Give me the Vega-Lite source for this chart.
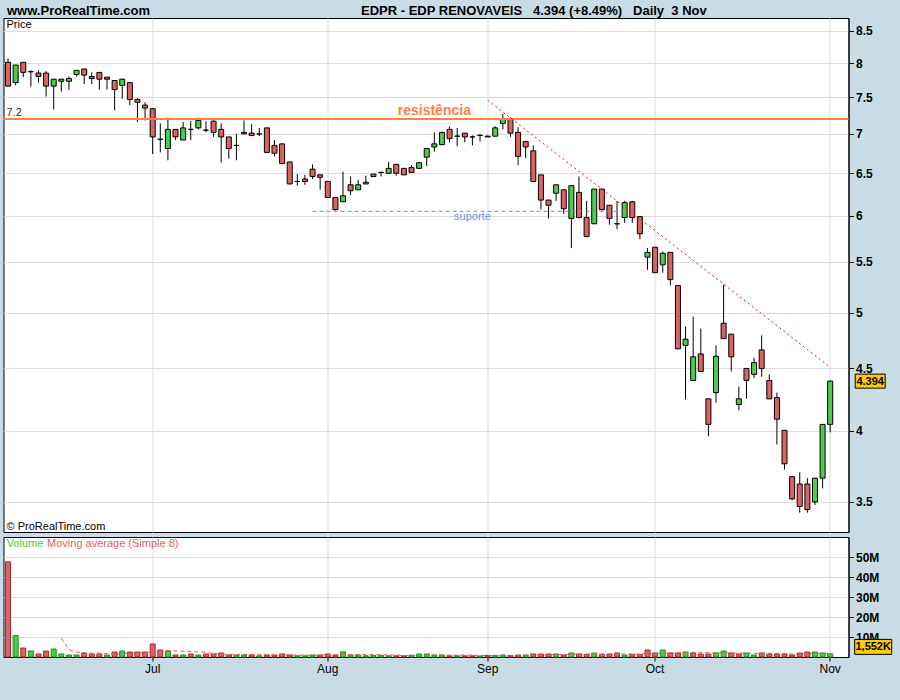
{
  "$schema": "https://vega.github.io/schema/vega-lite/v6.json",
  "background": "#c9dce6",
  "padding": {"left": 1.5, "top": 3, "right": 10.5, "bottom": 26.5},
  "spacing": 3,
  "config": {
    "font": "Liberation Sans",
    "view": {"stroke": "#000000", "strokeWidth": 1, "fill": "#ffffff"},
    "axis": {"gridColor": "#dcdcdc", "gridWidth": 1, "domainColor": "#000000", "tickColor": "#000000", "labelColor": "#000000", "labelFont": "Liberation Sans", "titleFont": "Liberation Sans", "titleColor": "#000000", "labelOverlap": false}
  },
  "datasets": {
    "ohlc": [
      {"d":"2008-06-04","o":8.01,"h":8.07,"l":7.65,"c":7.66,"v":47600000,"vd":"down"},
      {"d":"2008-06-05","o":7.71,"h":7.97,"l":7.67,"c":7.97,"v":10700000,"vd":"up"},
      {"d":"2008-06-06","o":8.01,"h":8.01,"l":7.79,"c":7.86,"v":4500000,"vd":"down"},
      {"d":"2008-06-09","o":7.87,"h":7.89,"l":7.65,"c":7.87,"v":3000000,"vd":"up"},
      {"d":"2008-06-10","o":7.85,"h":7.89,"l":7.71,"c":7.80,"v":1500000,"vd":"down"},
      {"d":"2008-06-11","o":7.85,"h":7.88,"l":7.51,"c":7.66,"v":3000000,"vd":"down"},
      {"d":"2008-06-12","o":7.66,"h":7.76,"l":7.33,"c":7.76,"v":4000000,"vd":"up"},
      {"d":"2008-06-13","o":7.73,"h":7.76,"l":7.58,"c":7.76,"v":1500000,"vd":"up"},
      {"d":"2008-06-16","o":7.73,"h":7.80,"l":7.60,"c":7.77,"v":1000000,"vd":"up"},
      {"d":"2008-06-17","o":7.83,"h":7.89,"l":7.80,"c":7.89,"v":1000000,"vd":"up"},
      {"d":"2008-06-18","o":7.91,"h":7.91,"l":7.69,"c":7.82,"v":2000000,"vd":"down"},
      {"d":"2008-06-19","o":7.80,"h":7.86,"l":7.69,"c":7.77,"v":1500000,"vd":"down"},
      {"d":"2008-06-20","o":7.86,"h":7.86,"l":7.61,"c":7.76,"v":1500000,"vd":"down"},
      {"d":"2008-06-23","o":7.79,"h":7.79,"l":7.61,"c":7.76,"v":1000000,"vd":"up"},
      {"d":"2008-06-24","o":7.74,"h":7.74,"l":7.32,"c":7.61,"v":2500000,"vd":"down"},
      {"d":"2008-06-25","o":7.67,"h":7.77,"l":7.48,"c":7.76,"v":3000000,"vd":"up"},
      {"d":"2008-06-26","o":7.71,"h":7.71,"l":7.39,"c":7.47,"v":2500000,"vd":"down"},
      {"d":"2008-06-27","o":7.47,"h":7.49,"l":7.16,"c":7.43,"v":2500000,"vd":"down"},
      {"d":"2008-06-30","o":7.39,"h":7.43,"l":7.18,"c":7.35,"v":2500000,"vd":"down"},
      {"d":"2008-07-01","o":7.34,"h":7.34,"l":6.74,"c":6.96,"v":6500000,"vd":"down"},
      {"d":"2008-07-02","o":6.93,"h":7.14,"l":6.76,"c":6.93,"v":3500000,"vd":"down"},
      {"d":"2008-07-03","o":6.81,"h":7.22,"l":6.66,"c":7.06,"v":3000000,"vd":"up"},
      {"d":"2008-07-04","o":7.06,"h":7.06,"l":6.92,"c":6.96,"v":1000000,"vd":"down"},
      {"d":"2008-07-07","o":6.92,"h":7.16,"l":6.92,"c":7.08,"v":1000000,"vd":"up"},
      {"d":"2008-07-08","o":7.06,"h":7.17,"l":6.92,"c":7.06,"v":1500000,"vd":"down"},
      {"d":"2008-07-09","o":7.08,"h":7.22,"l":7.06,"c":7.18,"v":1000000,"vd":"up"},
      {"d":"2008-07-10","o":7.05,"h":7.17,"l":7.02,"c":7.05,"v":1500000,"vd":"down"},
      {"d":"2008-07-11","o":7.17,"h":7.18,"l":6.96,"c":7.02,"v":1500000,"vd":"down"},
      {"d":"2008-07-14","o":7.06,"h":7.14,"l":6.63,"c":6.96,"v":2000000,"vd":"down"},
      {"d":"2008-07-15","o":6.96,"h":6.96,"l":6.68,"c":6.81,"v":1000000,"vd":"down"},
      {"d":"2008-07-16","o":6.85,"h":7.00,"l":6.66,"c":6.85,"v":1000000,"vd":"up"},
      {"d":"2008-07-17","o":7.00,"h":7.18,"l":7.00,"c":7.02,"v":1000000,"vd":"up"},
      {"d":"2008-07-18","o":7.01,"h":7.13,"l":6.97,"c":6.98,"v":1000000,"vd":"down"},
      {"d":"2008-07-21","o":7.00,"h":7.08,"l":6.97,"c":7.00,"v":600000,"vd":"up"},
      {"d":"2008-07-22","o":7.08,"h":7.08,"l":6.76,"c":6.76,"v":1000000,"vd":"down"},
      {"d":"2008-07-23","o":6.85,"h":6.92,"l":6.71,"c":6.75,"v":1000000,"vd":"down"},
      {"d":"2008-07-24","o":6.87,"h":6.87,"l":6.62,"c":6.62,"v":1500000,"vd":"down"},
      {"d":"2008-07-25","o":6.64,"h":6.64,"l":6.37,"c":6.37,"v":1000000,"vd":"down"},
      {"d":"2008-07-28","o":6.40,"h":6.49,"l":6.35,"c":6.40,"v":600000,"vd":"up"},
      {"d":"2008-07-29","o":6.43,"h":6.48,"l":6.36,"c":6.40,"v":600000,"vd":"up"},
      {"d":"2008-07-30","o":6.55,"h":6.61,"l":6.43,"c":6.46,"v":1000000,"vd":"up"},
      {"d":"2008-07-31","o":6.48,"h":6.48,"l":6.30,"c":6.45,"v":1000000,"vd":"down"},
      {"d":"2008-08-01","o":6.40,"h":6.40,"l":6.21,"c":6.21,"v":1500000,"vd":"down"},
      {"d":"2008-08-04","o":6.21,"h":6.21,"l":6.06,"c":6.07,"v":1000000,"vd":"down"},
      {"d":"2008-08-05","o":6.16,"h":6.52,"l":6.16,"c":6.23,"v":2600000,"vd":"up"},
      {"d":"2008-08-06","o":6.36,"h":6.46,"l":6.24,"c":6.29,"v":1000000,"vd":"up"},
      {"d":"2008-08-07","o":6.30,"h":6.42,"l":6.30,"c":6.36,"v":1000000,"vd":"up"},
      {"d":"2008-08-08","o":6.37,"h":6.47,"l":6.37,"c":6.39,"v":600000,"vd":"up"},
      {"d":"2008-08-11","o":6.49,"h":6.49,"l":6.46,"c":6.46,"v":800000,"vd":"up"},
      {"d":"2008-08-12","o":6.51,"h":6.52,"l":6.46,"c":6.51,"v":800000,"vd":"up"},
      {"d":"2008-08-13","o":6.50,"h":6.64,"l":6.49,"c":6.56,"v":600000,"vd":"up"},
      {"d":"2008-08-14","o":6.61,"h":6.61,"l":6.47,"c":6.50,"v":600000,"vd":"down"},
      {"d":"2008-08-15","o":6.56,"h":6.56,"l":6.48,"c":6.48,"v":600000,"vd":"down"},
      {"d":"2008-08-18","o":6.57,"h":6.60,"l":6.51,"c":6.51,"v":900000,"vd":"up"},
      {"d":"2008-08-19","o":6.56,"h":6.63,"l":6.56,"c":6.63,"v":1500000,"vd":"up"},
      {"d":"2008-08-20","o":6.70,"h":6.81,"l":6.59,"c":6.81,"v":1500000,"vd":"up"},
      {"d":"2008-08-21","o":6.83,"h":7.02,"l":6.77,"c":6.87,"v":1000000,"vd":"up"},
      {"d":"2008-08-22","o":6.86,"h":7.03,"l":6.86,"c":7.02,"v":1000000,"vd":"up"},
      {"d":"2008-08-25","o":7.06,"h":7.10,"l":6.89,"c":6.94,"v":600000,"vd":"down"},
      {"d":"2008-08-26","o":6.97,"h":7.08,"l":6.84,"c":6.97,"v":600000,"vd":"up"},
      {"d":"2008-08-27","o":7.01,"h":7.01,"l":6.89,"c":6.96,"v":600000,"vd":"down"},
      {"d":"2008-08-28","o":6.96,"h":6.98,"l":6.85,"c":6.96,"v":600000,"vd":"down"},
      {"d":"2008-08-29","o":6.98,"h":7.00,"l":6.90,"c":6.98,"v":500000,"vd":"up"},
      {"d":"2008-09-01","o":6.97,"h":6.98,"l":6.96,"c":6.96,"v":800000,"vd":"down"},
      {"d":"2008-09-02","o":6.97,"h":7.10,"l":6.97,"c":7.08,"v":800000,"vd":"up"},
      {"d":"2008-09-03","o":7.14,"h":7.27,"l":7.06,"c":7.20,"v":1000000,"vd":"up"},
      {"d":"2008-09-04","o":7.20,"h":7.22,"l":6.96,"c":7.01,"v":800000,"vd":"down"},
      {"d":"2008-09-05","o":7.02,"h":7.09,"l":6.60,"c":6.71,"v":1000000,"vd":"down"},
      {"d":"2008-09-08","o":6.90,"h":6.90,"l":6.69,"c":6.83,"v":1000000,"vd":"up"},
      {"d":"2008-09-09","o":6.78,"h":6.85,"l":6.40,"c":6.40,"v":1500000,"vd":"down"},
      {"d":"2008-09-10","o":6.48,"h":6.48,"l":6.07,"c":6.18,"v":1500000,"vd":"down"},
      {"d":"2008-09-11","o":6.18,"h":6.18,"l":5.97,"c":6.12,"v":1500000,"vd":"down"},
      {"d":"2008-09-12","o":6.26,"h":6.36,"l":6.17,"c":6.36,"v":1500000,"vd":"up"},
      {"d":"2008-09-15","o":6.30,"h":6.30,"l":6.02,"c":6.08,"v":1000000,"vd":"down"},
      {"d":"2008-09-16","o":5.97,"h":6.35,"l":5.645,"c":6.35,"v":2000000,"vd":"up"},
      {"d":"2008-09-17","o":6.27,"h":6.46,"l":5.97,"c":5.98,"v":1500000,"vd":"down"},
      {"d":"2008-09-18","o":5.98,"h":6.17,"l":5.76,"c":5.77,"v":1300000,"vd":"down"},
      {"d":"2008-09-19","o":5.91,"h":6.31,"l":5.91,"c":6.31,"v":2000000,"vd":"up"},
      {"d":"2008-09-22","o":6.31,"h":6.31,"l":6.06,"c":6.07,"v":1300000,"vd":"down"},
      {"d":"2008-09-23","o":6.12,"h":6.12,"l":5.90,"c":5.97,"v":1500000,"vd":"down"},
      {"d":"2008-09-24","o":5.91,"h":6.17,"l":5.85,"c":5.91,"v":2000000,"vd":"down"},
      {"d":"2008-09-25","o":5.98,"h":6.17,"l":5.92,"c":6.15,"v":1000000,"vd":"up"},
      {"d":"2008-09-26","o":6.16,"h":6.17,"l":5.92,"c":5.98,"v":1300000,"vd":"down"},
      {"d":"2008-09-29","o":5.99,"h":5.99,"l":5.74,"c":5.80,"v":1300000,"vd":"down"},
      {"d":"2008-09-30","o":5.55,"h":5.645,"l":5.42,"c":5.60,"v":3500000,"vd":"down"},
      {"d":"2008-10-01","o":5.655,"h":5.655,"l":5.39,"c":5.39,"v":2000000,"vd":"down"},
      {"d":"2008-10-02","o":5.47,"h":5.61,"l":5.39,"c":5.59,"v":3500000,"vd":"up"},
      {"d":"2008-10-03","o":5.60,"h":5.60,"l":5.26,"c":5.32,"v":2000000,"vd":"down"},
      {"d":"2008-10-06","o":5.26,"h":5.26,"l":4.67,"c":4.67,"v":2000000,"vd":"down"},
      {"d":"2008-10-07","o":4.70,"h":4.87,"l":4.245,"c":4.755,"v":2500000,"vd":"up"},
      {"d":"2008-10-08","o":4.40,"h":4.96,"l":4.40,"c":4.60,"v":2000000,"vd":"down"},
      {"d":"2008-10-09","o":4.625,"h":4.85,"l":4.475,"c":4.475,"v":1500000,"vd":"down"},
      {"d":"2008-10-10","o":4.25,"h":4.25,"l":3.96,"c":4.05,"v":1500000,"vd":"down"},
      {"d":"2008-10-13","o":4.30,"h":4.70,"l":4.22,"c":4.605,"v":2000000,"vd":"up"},
      {"d":"2008-10-14","o":4.90,"h":5.27,"l":4.76,"c":4.76,"v":3000000,"vd":"up"},
      {"d":"2008-10-15","o":4.80,"h":4.80,"l":4.475,"c":4.60,"v":2000000,"vd":"down"},
      {"d":"2008-10-16","o":4.205,"h":4.35,"l":4.16,"c":4.25,"v":1500000,"vd":"down"},
      {"d":"2008-10-17","o":4.50,"h":4.50,"l":4.25,"c":4.40,"v":2000000,"vd":"up"},
      {"d":"2008-10-20","o":4.45,"h":4.59,"l":4.42,"c":4.55,"v":1000000,"vd":"up"},
      {"d":"2008-10-21","o":4.66,"h":4.79,"l":4.43,"c":4.50,"v":2000000,"vd":"down"},
      {"d":"2008-10-22","o":4.40,"h":4.45,"l":4.25,"c":4.25,"v":1500000,"vd":"down"},
      {"d":"2008-10-23","o":4.26,"h":4.30,"l":3.90,"c":4.09,"v":1500000,"vd":"down"},
      {"d":"2008-10-24","o":4.005,"h":4.005,"l":3.72,"c":3.76,"v":1500000,"vd":"down"},
      {"d":"2008-10-27","o":3.67,"h":3.675,"l":3.51,"c":3.52,"v":1000000,"vd":"down"},
      {"d":"2008-10-28","o":3.62,"h":3.70,"l":3.43,"c":3.47,"v":2000000,"vd":"down"},
      {"d":"2008-10-29","o":3.62,"h":3.66,"l":3.43,"c":3.45,"v":2500000,"vd":"down"},
      {"d":"2008-10-30","o":3.50,"h":3.66,"l":3.48,"c":3.66,"v":2500000,"vd":"up"},
      {"d":"2008-10-31","o":3.66,"h":4.05,"l":3.59,"c":4.05,"v":2000000,"vd":"up"},
      {"d":"2008-11-03","o":4.05,"h":4.40,"l":3.99,"c":4.394,"v":1552000,"vd":"up"}
    ]
  },
  "vconcat": [
    {
      "width": 845,
      "height": 514,
      "layer": [
        {
          "data": {"name": "ohlc"},
          "mark": {"type": "rule", "color": "#000000", "strokeWidth": 1},
          "encoding": {
            "x": {
              "field": "d", "type": "ordinal",
              "scale": {"type": "band", "paddingInner": 0, "paddingOuter": 1.09, "align": 0.048},
              "axis": {
                "orient": "top", "values": ["2008-07-01","2008-08-01","2008-09-01","2008-10-01","2008-11-03"],
                "bandPosition": 0.5, "grid": true, "labels": false, "ticks": false, "domain": false,
                "title": "EDPR - EDP RENOVAVEIS\u00a0\u00a0 4.394 (+8.49%)\u00a0\u00a0 Daily\u00a0 3 Nov",
                "titleFontSize": 13, "titleFontWeight": "bold", "titleAnchor": "start", "titleAlign": "left",
                "titleX": 357, "titleY": -4, "titleBaseline": "alphabetic", "titlePadding": 0
              }
            },
            "y": {
              "field": "l", "type": "quantitative",
              "scale": {"type": "log", "domain": [3.307, 8.708], "nice": false, "zero": false},
              "axis": {
                "orient": "right", "values": [3.5,4,4.5,5,5.5,6,6.5,7,7.5,8,8.5], "tickCount": 20, "grid": true,
                "tickSize": 5, "labelPadding": 2, "labelFontWeight": "bold", "labelFontSize": 12, "labelOverlap": false,
                "labelExpr": "format(datum.value, '~g')",
                "title": "www.ProRealTime.com", "titleAngle": 0, "titleX": -842, "titleY": -4,
                "titleAlign": "left", "titleBaseline": "alphabetic", "titleFontSize": 13, "titleFontWeight": "bold"
              }
            },
            "y2": {"field": "h"}
          }
        },
        {
          "data": {"name": "ohlc"},
          "mark": {"type": "bar", "size": 5, "stroke": "#000000", "strokeWidth": 1},
          "encoding": {
            "x": {"field": "d", "type": "ordinal"},
            "y": {"field": "o", "type": "quantitative"},
            "y2": {"field": "c"},
            "fill": {"condition": {"test": "datum.c > datum.o", "value": "#4ccc4c"}, "value": "#dd6262"}
          }
        },
        {
          "data": {"values": [{"p": 7.2}]},
          "mark": {"type": "rule", "color": "#ff8040", "strokeWidth": 2},
          "encoding": {"y": {"field": "p", "type": "quantitative"}}
        },
        {
          "data": {"values": [{"d": "2008-07-30", "p": 6.05}, {"d": "2008-09-25", "p": 6.05}]},
          "mark": {"type": "line", "color": "#6a8fe8", "strokeWidth": 1, "strokeDash": [4, 3]},
          "encoding": {
            "x": {"field": "d", "type": "ordinal"},
            "y": {"field": "p", "type": "quantitative"}
          }
        },
        {
          "data": {"values": [{"d": "2008-09-01", "p": 7.46}, {"d": "2008-11-03", "p": 4.51}]},
          "mark": {"type": "line", "color": "#ff0000", "strokeWidth": 1, "strokeDash": [2, 3]},
          "encoding": {
            "x": {"field": "d", "type": "ordinal"},
            "y": {"field": "p", "type": "quantitative"}
          }
        },
        {
          "data": {"values": [{"d": "2008-06-04", "p": 8.545, "t": "Price"}]},
          "mark": {"type": "text", "align": "left", "baseline": "alphabetic", "dx": -1.5, "fontSize": 11, "color": "#000000"},
          "encoding": {
            "x": {"field": "d", "type": "ordinal"},
            "y": {"field": "p", "type": "quantitative"},
            "text": {"field": "t"}
          }
        },
        {
          "data": {"values": [{"d": "2008-06-04", "p": 7.2, "t": "7.2"}]},
          "mark": {"type": "text", "align": "left", "baseline": "alphabetic", "dx": -1.5, "dy": -3, "fontSize": 11, "color": "#333333"},
          "encoding": {
            "x": {"field": "d", "type": "ordinal"},
            "y": {"field": "p", "type": "quantitative"},
            "text": {"field": "t"}
          }
        },
        {
          "data": {"values": [{"d": "2008-08-21", "p": 7.2, "t": "resistência"}]},
          "mark": {"type": "text", "align": "center", "baseline": "alphabetic", "dy": -4, "fontSize": 14, "fontWeight": "bold", "color": "#ff8040"},
          "encoding": {
            "x": {"field": "d", "type": "ordinal"},
            "y": {"field": "p", "type": "quantitative"},
            "text": {"field": "t"}
          }
        },
        {
          "data": {"values": [{"d": "2008-08-28", "p": 6.05, "t": "suporte"}]},
          "mark": {"type": "text", "align": "center", "baseline": "alphabetic", "dy": 9, "fontSize": 11, "color": "#6a8fe8"},
          "encoding": {
            "x": {"field": "d", "type": "ordinal"},
            "y": {"field": "p", "type": "quantitative"},
            "text": {"field": "t"}
          }
        },
        {
          "data": {"values": [{"d": "2008-06-04", "p": 3.307, "t": "© ProRealTime.com"}]},
          "mark": {"type": "text", "align": "left", "baseline": "alphabetic", "dx": -1.5, "dy": -2, "fontSize": 11, "color": "#000000"},
          "encoding": {
            "x": {"field": "d", "type": "ordinal"},
            "y": {"field": "p", "type": "quantitative"},
            "text": {"field": "t"}
          }
        },
        {
          "data": {"values": [{"d": "2008-11-03", "p": 4.394, "t": "4.394"}]},
          "mark": {"type": "point", "shape": "M-1,-0.4667H1V0.4667H-1Z", "size": 900, "filled": true, "fill": "#ffcc00", "stroke": "#000000", "strokeWidth": 1, "opacity": 1, "fillOpacity": 1, "xOffset": 40},
          "encoding": {
            "x": {"field": "d", "type": "ordinal"},
            "y": {"field": "p", "type": "quantitative"}
          }
        },
        {
          "data": {"values": [{"d": "2008-11-03", "p": 4.394, "t": "4.394"}]},
          "mark": {"type": "text", "align": "center", "baseline": "middle", "dx": 40, "dy": 0.5, "fontSize": 11, "fontWeight": "bold", "color": "#000000"},
          "encoding": {
            "x": {"field": "d", "type": "ordinal"},
            "y": {"field": "p", "type": "quantitative"},
            "text": {"field": "t"}
          }
        }
      ]
    },
    {
      "width": 845,
      "height": 120,
      "layer": [
        {
          "data": {"name": "ohlc"},
          "mark": {"type": "bar", "size": 5, "strokeWidth": 1},
          "encoding": {
            "x": {
              "field": "d", "type": "ordinal",
              "scale": {"type": "band", "paddingInner": 0, "paddingOuter": 1.09, "align": 0.048},
              "axis": {
                "orient": "bottom", "values": ["2008-07-01","2008-08-01","2008-09-01","2008-10-01","2008-11-03"],
                "bandPosition": 0.5, "grid": true, "domain": false, "ticks": true, "tickSize": 4,
                "labelPadding": 2, "labelAngle": 0, "labelFontSize": 12, "title": null,
                "labelExpr": "datum.value == '2008-07-01' ? 'Jul' : datum.value == '2008-08-01' ? 'Aug' : datum.value == '2008-09-01' ? 'Sep' : datum.value == '2008-10-01' ? 'Oct' : 'Nov'"
              }
            },
            "y": {
              "field": "v", "type": "quantitative",
              "scale": {"domain": [0, 60000000], "nice": false},
              "axis": {
                "orient": "right", "values": [10000000, 20000000, 30000000, 40000000, 50000000], "tickCount": 10, "grid": true,
                "tickSize": 5, "labelPadding": 2, "labelFontWeight": "bold", "labelFontSize": 12, "title": null,
                "labelOverlap": false,
                "labelExpr": "(datum.value / 1000000) + 'M'"
              }
            },
            "fill": {"field": "vd", "type": "nominal", "scale": {"domain": ["up", "down"], "range": ["#4ccc44", "#dd6262"]}, "legend": null},
            "stroke": {"field": "vd", "type": "nominal", "scale": {"domain": ["up", "down"], "range": ["#1e8c1e", "#a32b2b"]}, "legend": null}
          }
        },
        {
          "data": {"name": "ohlc"},
          "transform": [
            {"window": [{"op": "mean", "field": "v", "as": "ma"}, {"op": "count", "as": "n"}], "frame": [-7, 0], "sort": [{"field": "d"}]},
            {"filter": {"field": "n", "gte": 8}}
          ],
          "mark": {"type": "line", "color": "#e05a5a", "strokeWidth": 1, "strokeDash": [4, 3]},
          "encoding": {
            "x": {"field": "d", "type": "ordinal"},
            "y": {"field": "ma", "type": "quantitative"}
          }
        },
        {
          "data": {"values": [{"d": "2008-06-04", "v": 60000000, "t": "Volume"}]},
          "mark": {"type": "text", "align": "left", "baseline": "alphabetic", "dx": -1.3, "dy": 10, "fontSize": 11, "color": "#4cc44c"},
          "encoding": {
            "x": {"field": "d", "type": "ordinal"},
            "y": {"field": "v", "type": "quantitative"},
            "text": {"field": "t"}
          }
        },
        {
          "data": {"values": [{"d": "2008-06-04", "v": 60000000, "t": "Moving average (Simple 8)"}]},
          "mark": {"type": "text", "align": "left", "baseline": "alphabetic", "dx": 39, "dy": 10, "fontSize": 11, "color": "#e06060"},
          "encoding": {
            "x": {"field": "d", "type": "ordinal"},
            "y": {"field": "v", "type": "quantitative"},
            "text": {"field": "t"}
          }
        },
        {
          "data": {"values": [{"d": "2008-11-03", "v": 1552000, "t": "1,552K"}]},
          "mark": {"type": "point", "shape": "M-1,-0.405H1V0.405H-1Z", "size": 1369, "filled": true, "fill": "#ffcc00", "stroke": "#000000", "strokeWidth": 1, "opacity": 1, "fillOpacity": 1, "xOffset": 43, "yOffset": -7},
          "encoding": {
            "x": {"field": "d", "type": "ordinal"},
            "y": {"field": "v", "type": "quantitative"}
          }
        },
        {
          "data": {"values": [{"d": "2008-11-03", "v": 1552000, "t": "1,552K"}]},
          "mark": {"type": "text", "align": "center", "baseline": "middle", "dx": 43, "dy": -6.5, "fontSize": 11, "fontWeight": "bold", "color": "#000000"},
          "encoding": {
            "x": {"field": "d", "type": "ordinal"},
            "y": {"field": "v", "type": "quantitative"},
            "text": {"field": "t"}
          }
        }
      ]
    }
  ]
}
